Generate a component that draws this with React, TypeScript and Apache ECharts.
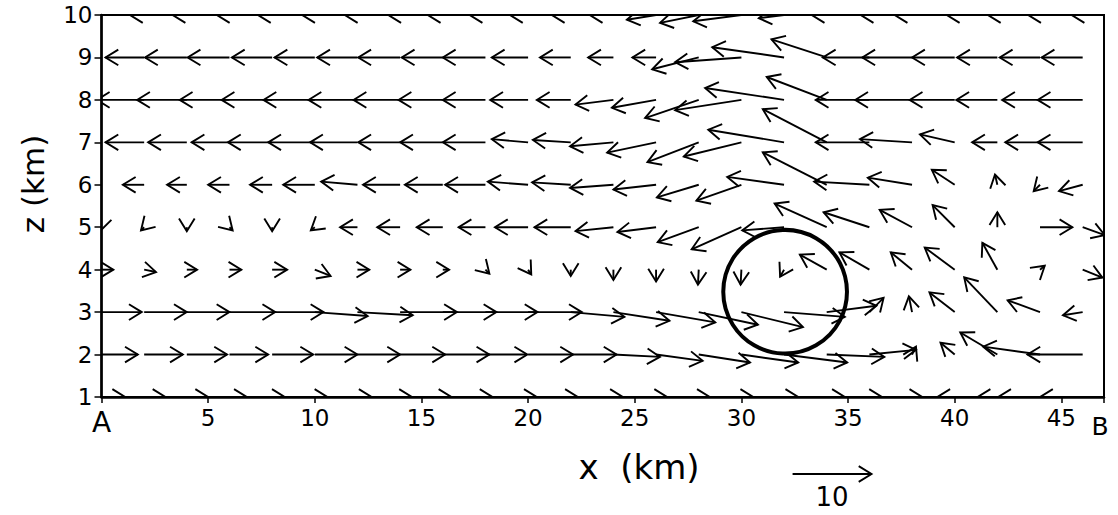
import React, { useEffect, useRef } from "react";
import * as echarts from "echarts";

// Grid of measurement points (km)
const X_KM = [0, 2, 4, 6, 8, 10, 12, 14, 16, 18, 20, 22, 24, 26, 28, 30, 32, 34, 36, 38, 40, 42, 44, 46];
const Z_KM = [1, 2, 3, 4, 5, 6, 7, 8, 9, 10];

// Horizontal (U) and vertical (W) wind components (m/s), one array per height
const U_Z10 = [-1.8, -1.8, -1.8, -1.6, -1.8, -1.6, -1.6, -1.5, -1.9, -2.0, -2.3, -2.4, -3.0, -3.7, -4.9, -6.1, -3.2, -1.9, -1.1, -2.2, -1.0, -1.2, -1.5, -1.4];
const W_Z10 = [0, 0, 0, 0, 0, 0, 0, 0, 0, 0, 0, 0, 0, -0.6, -1.0, -0.8, -0.4, 0, 0, 0, 0, 0, 0, 0];
const U_Z9 = [-5.3, -4.9, -5.3, -5.3, -5.1, -5.1, -5.1, -5.3, -5.2, -5.4, -4.6, -3.9, -3.2, -3.0, -5.9, -8.4, -9.1, -7.0, -5.9, -6.3, -5.4, -5.1, -5.1, -5.2];
const W_Z9 = [0, 0, 0, 0, 0, 0, 0, 0, 0, 0, 0, 0, 0, 0, -1.5, -0.6, 1.3, 2.3, 0, 0, 0, 0, 0, 0];
const U_Z8 = [-6.3, -6.0, -6.3, -6.3, -6.4, -6.5, -6.2, -5.9, -5.6, -5.4, -4.8, -4.3, -4.8, -5.6, -6.8, -8.4, -10.0, -7.6, -6.8, -7.2, -5.7, -5.2, -4.8, -5.7];
const W_Z8 = [0, 0, 0, 0, 0, 0, 0, 0, 0, 0, 0, 0, -0.6, -1.0, -2.3, -1.3, 1.5, 2.9, 0, 0, 0, 0, 0, 0];
const U_Z7 = [-4.9, -4.9, -4.9, -4.8, -5.6, -5.9, -6.0, -5.3, -5.4, -5.4, -4.6, -4.8, -5.5, -6.2, -6.5, -7.3, -9.6, -8.1, -6.8, -6.6, -4.4, -3.2, -4.4, -5.7];
const W_Z7 = [0, 0, 0, 0, 0, 0, 0, 0, 0, 0, 0.4, 0.3, -0.5, -1.3, -2.5, -1.8, 1.6, 4.2, 0, 0.4, 1.0, 0, 0, 0];
const U_Z6 = [-2.5, -2.7, -2.5, -2.7, -2.8, -4.0, -4.6, -4.7, -4.8, -5.1, -5.1, -4.9, -5.5, -5.4, -5.3, -5.7, -7.2, -8.1, -7.0, -5.6, -2.9, -0.3, -0.8, -3.0];
const W_Z6 = [0, 0, 0, 0, 0, 0, 0.4, 0, 0, 0, 0.4, 0.3, -0.4, -0.6, -1.6, -2.0, 1.0, 4.1, 0.4, 0.9, 1.9, 1.3, -0.8, -0.8];
const U_Z5 = [-0.1, -0.4, 0, 0.4, 0, -0.5, -2.2, -2.9, -3.3, -3.4, -4.2, -4.6, -4.8, -4.9, -5.2, -6.3, -5.3, -6.6, -5.8, -4.1, -2.8, 0, 4.1, 2.8];
const W_Z5 = [-0.4, -0.4, -0.5, -0.4, -0.5, -0.4, 0, 0, 0, 0, 0, 0, -0.5, -0.6, -1.9, -2.8, -0.4, 3.0, 1.9, 2.2, 2.8, 1.9, 0, -1.0];
const U_Z4 = [1.5, 1.5, 1.3, 1.5, 1.9, 2.0, 1.5, 1.3, 0.8, 0.5, 0.4, 0, 0, 0, -0.1, -0.1, -0.5, -3.4, -3.8, -2.7, -3.8, -1.9, 0.6, 2.5];
const W_Z4 = [0, -0.3, 0, 0, 0, -0.8, 0, 0, 0, -0.5, -0.6, -0.8, -1.3, -1.5, -1.9, -1.9, -0.9, 1.9, 2.2, 2.2, 2.8, 3.4, 0.5, -1.0];
const U_Z3 = [5.1, 5.4, 5.4, 5.8, 6.5, 6.7, 7.0, 7.2, 6.8, 6.6, 6.8, 6.8, 7.1, 7.5, 7.5, 7.8, 7.7, 6.3, 1.8, -0.4, -3.2, -4.2, -4.1, -2.5];
const W_Z3 = [0, 0, 0, 0, 0, -0.5, -0.4, 0, 0, 0, 0, -0.6, -1.1, -1.3, -1.6, -1.9, -0.6, 0.8, 1.8, 2.0, 2.5, 4.4, 1.5, -0.4];
const U_Z2 = [4.6, 4.9, 5.1, 4.9, 5.2, 5.4, 5.4, 5.7, 5.9, 5.3, 5.7, 5.8, 5.9, 5.9, 6.5, 7.2, 8.0, 7.3, 5.9, 0.5, -1.8, -4.7, -7.2, -7.0];
const W_Z2 = [0, 0, 0, 0, 0, 0, 0, 0, 0, 0, 0, 0, -0.3, -0.8, -1.0, -1.0, -1.0, -0.3, 0.6, 1.0, 1.5, 2.8, 1.0, 0];
const U_Z1 = [3.0, 2.7, 2.7, 2.2, 1.6, 1.6, 1.8, 1.5, 1.1, 0.9, 1.1, 0.9, 1.2, 1.4, 1.4, 1.5, 1.8, 2.3, 1.6, 1.3, -2.2, -2.5, -5.3, -5.4];
const W_Z1 = [0, 0, 0, 0, 0, 0, 0, 0, 0, 0, 0, 0, 0, 0, 0, 0, 0, 0, 0, 0, 0, 0, 0, 0];

const U_ROWS = [U_Z1, U_Z2, U_Z3, U_Z4, U_Z5, U_Z6, U_Z7, U_Z8, U_Z9, U_Z10];
const W_ROWS = [W_Z1, W_Z2, W_Z3, W_Z4, W_Z5, W_Z6, W_Z7, W_Z8, W_Z9, W_Z10];

// Circle marking the cell (centre x, z in km; radius in km along x)
const CIRCLE = [[32.05, 3.48, 2.9]];
// Reference vector (m/s) and the x where it starts
const SCALE_VALUE = 10;
const SCALE_X_KM = 32.4;

// Axis settings
const X_MIN = 0;
const X_MAX = 47;
const X_TICK = 5;
const Z_MIN = 1;
const Z_MAX = 10;

const KM_PER_MS = 0.37; // arrow length: 10 m/s = 3.7 km along x
const HEAD_LEN = 15;
const HEAD_ANG = 0.55;
const LINE_W = 1.9;
const FONT = '"DejaVu Sans", "Liberation Sans", sans-serif';

function arrowShapes(x0: number, y0: number, x1: number, y1: number, lw: number) {
  const ang = Math.atan2(y1 - y0, x1 - x0);
  const b1 = [x1 - HEAD_LEN * Math.cos(ang - HEAD_ANG), y1 - HEAD_LEN * Math.sin(ang - HEAD_ANG)];
  const b2 = [x1 - HEAD_LEN * Math.cos(ang + HEAD_ANG), y1 - HEAD_LEN * Math.sin(ang + HEAD_ANG)];
  return [
    { type: "line", shape: { x1: x0, y1: y0, x2: x1, y2: y1 }, style: { stroke: "#000", lineWidth: lw, fill: null } },
    { type: "polyline", shape: { points: [b1, [x1, y1], b2] }, style: { stroke: "#000", lineWidth: lw, fill: null } },
  ];
}

export default function App() {
  const ref = useRef<HTMLDivElement>(null);
  useEffect(() => {
    if (!ref.current) return;
    const chart = echarts.init(ref.current, null, { renderer: "svg" });

    const vectors: number[][] = [];
    Z_KM.forEach((z, r) => {
      X_KM.forEach((x, c) => {
        vectors.push([x, z, U_ROWS[r][c], W_ROWS[r][c]]);
      });
    });

    const pxPerKm = (api: any, x: number, z: number) => {
      const a = api.coord([x, z]);
      const b = api.coord([x + 1, z]);
      return b[0] - a[0];
    };

    const option: any = {
      animation: false,
      backgroundColor: "#fff",
      grid: {
        left: 101.5,
        right: 14,
        top: 15,
        bottom: 118,
        show: true,
        borderColor: "#000",
        borderWidth: 2,
      },
      xAxis: {
        type: "value",
        min: X_MIN,
        max: X_MAX,
        interval: X_TICK,
        axisLine: { lineStyle: { color: "#000", width: 2.5 } },
        axisTick: { show: true, inside: false, length: 6, lineStyle: { color: "#000", width: 1.5 } },
        splitLine: { show: false },
        axisLabel: {
          showMinLabel: true,
          showMaxLabel: true,
          margin: 9,
          color: "#000",
          fontFamily: FONT,
          fontSize: 23,
          formatter: (v: number) => {
            if (v === X_MIN) return "{a|A}";
            if (v === X_MAX) return "{b|B}";
            return v % X_TICK === 0 ? String(v) : "";
          },
          rich: {
            a: { fontFamily: FONT, fontSize: 28, color: "#000", padding: [2, 0, 0, 0] },
            b: { fontFamily: FONT, fontSize: 25, color: "#000", padding: [8, 8, 0, 0] },
          },
        },
      },
      yAxis: {
        type: "value",
        min: Z_MIN,
        max: Z_MAX,
        interval: 1,
        axisLine: { lineStyle: { color: "#000", width: 2.5 } },
        axisTick: { show: true, inside: false, length: 7, lineStyle: { color: "#000", width: 1.5 } },
        splitLine: { show: false },
        axisLabel: { margin: 9, color: "#000", fontFamily: FONT, fontSize: 23 },
      },
      graphic: [
        {
          type: "text",
          x: 639,
          y: 467,
          style: { text: "x  (km)", fontFamily: FONT, fontSize: 34, fill: "#000", align: "center", verticalAlign: "middle" },
        },
        {
          type: "text",
          x: 33,
          y: 184,
          rotation: Math.PI / 2,
          style: { text: "z (km)", fontFamily: FONT, fontSize: 31, fill: "#000", align: "center", verticalAlign: "middle" },
        },
      ],
      series: [
        {
          type: "custom",
          name: "wind",
          clip: true,
          silent: true,
          data: vectors,
          renderItem: (params: any, api: any) => {
            const x = api.value(0);
            const z = api.value(1);
            const u = api.value(2);
            const w = api.value(3);
            const p = api.coord([x, z]);
            const k = pxPerKm(api, x, z) * KM_PER_MS;
            const hx = p[0] + u * k;
            const hy = p[1] - w * k;
            return { type: "group", children: arrowShapes(p[0], p[1], hx, hy, LINE_W) };
          },
        },
        {
          type: "custom",
          name: "cell",
          clip: false,
          silent: true,
          data: CIRCLE,
          renderItem: (params: any, api: any) => {
            const p = api.coord([api.value(0), api.value(1)]);
            const r = pxPerKm(api, api.value(0), api.value(1)) * api.value(2);
            return {
              type: "circle",
              shape: { cx: p[0], cy: p[1], r },
              style: { stroke: "#000", lineWidth: 4, fill: null },
            };
          },
        },
        {
          type: "custom",
          name: "scale",
          clip: false,
          silent: true,
          data: [[SCALE_X_KM, Z_MIN, SCALE_VALUE]],
          renderItem: (params: any, api: any) => {
            const p = api.coord([api.value(0), api.value(1)]);
            const len = api.value(2) * pxPerKm(api, api.value(0), api.value(1)) * KM_PER_MS;
            const y = p[1] + 77;
            return {
              type: "group",
              children: [
                ...arrowShapes(p[0], y, p[0] + len, y, LINE_W),
                {
                  type: "text",
                  x: p[0] + len / 2,
                  y: y + 23,
                  style: {
                    text: String(api.value(2)),
                    fontFamily: FONT,
                    fontSize: 26,
                    fill: "#000",
                    align: "center",
                    verticalAlign: "middle",
                  },
                },
              ],
            };
          },
        },
      ],
    };
    chart.setOption(option);
    return () => chart.dispose();
  }, []);
  return <div ref={ref} style={{ position: "absolute", left: 0, top: 0, width: 1118, height: 515 }} />;
}
